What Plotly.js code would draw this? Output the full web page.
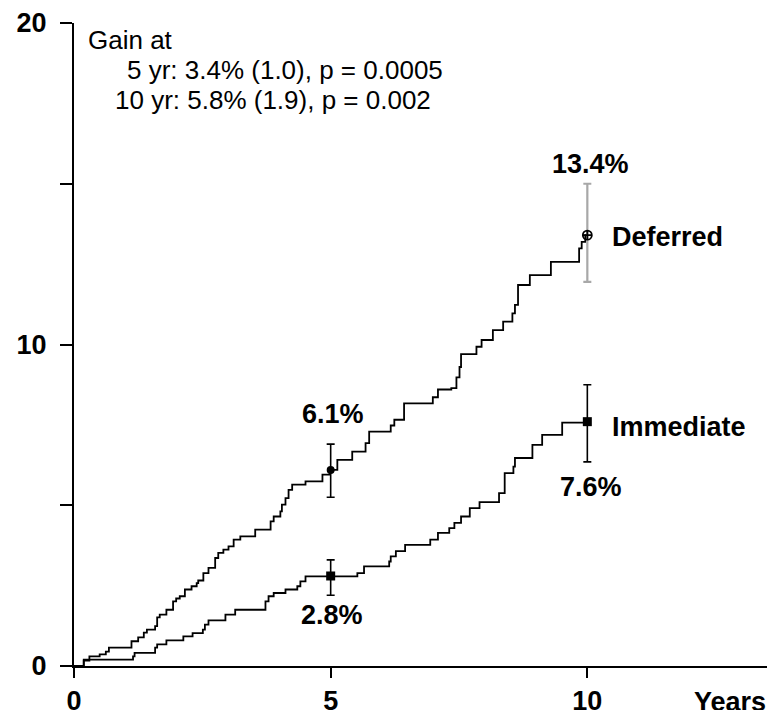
<!DOCTYPE html>
<html>
<head>
<meta charset="utf-8">
<script src="https://cdn.plot.ly/plotly-3.0.1.min.js"></script>
<style>html,body{margin:0;padding:0;background:#fff;}#chart{width:779px;height:710px;}</style>
</head>
<body>
<div id="chart"></div>
<script>
// Cumulative incidence step curves (years, %)
const deferredYears = [0, 0.19, 0.30, 0.50, 0.62, 0.68, 1.12, 1.25, 1.36, 1.42, 1.58, 1.62, 1.67, 1.80, 1.93, 1.99, 2.06, 2.16, 2.29, 2.39, 2.42, 2.52, 2.62, 2.75, 2.81, 2.91, 3.01, 3.11, 3.24, 3.53, 3.83, 3.89, 4.02, 4.05, 4.12, 4.18, 4.25, 4.51, 4.84, 4.98, 5.13, 5.42, 5.68, 5.75, 6.17, 6.24, 6.43, 6.99, 7.09, 7.35, 7.45, 7.51, 7.54, 7.84, 7.94, 8.16, 8.36, 8.54, 8.59, 8.65, 8.88, 9.29, 9.84, 9.89, 9.96, 10.0];
const deferredRisk  = [0, 0.17, 0.30, 0.36, 0.45, 0.57, 0.77, 0.89, 1.04, 1.13, 1.24, 1.51, 1.60, 1.75, 2.01, 2.10, 2.17, 2.38, 2.48, 2.58, 2.66, 2.89, 3.05, 3.36, 3.52, 3.62, 3.72, 3.93, 4.03, 4.24, 4.50, 4.65, 4.81, 5.02, 5.22, 5.48, 5.64, 5.74, 5.95, 6.10, 6.41, 6.67, 6.93, 7.29, 7.48, 7.66, 8.17, 8.36, 8.60, 8.64, 8.98, 9.30, 9.70, 9.93, 10.14, 10.45, 10.71, 10.97, 11.23, 11.85, 12.16, 12.57, 12.99, 13.19, 13.40, 13.40];

const immediateYears = [0, 0.19, 1.15, 1.18, 1.58, 1.62, 1.80, 2.13, 2.31, 2.51, 2.55, 2.62, 2.95, 3.14, 3.73, 3.79, 3.89, 4.12, 4.35, 4.41, 4.51, 5.52, 5.65, 6.14, 6.17, 6.27, 6.45, 6.94, 7.09, 7.31, 7.41, 7.54, 7.71, 7.90, 8.28, 8.39, 8.56, 8.59, 8.93, 9.12, 9.51, 10.0];
const immediateRisk  = [0, 0.20, 0.30, 0.41, 0.57, 0.67, 0.80, 0.92, 1.02, 1.13, 1.29, 1.42, 1.60, 1.75, 2.01, 2.17, 2.27, 2.38, 2.48, 2.63, 2.79, 2.89, 3.10, 3.25, 3.41, 3.57, 3.77, 3.93, 4.14, 4.29, 4.45, 4.65, 4.91, 5.10, 5.38, 6.00, 6.20, 6.47, 6.88, 7.19, 7.57, 7.60];

// Point estimates with error bars (5 and 10 years)
const markYears = [5, 10];
const deferredPoint = [6.1, 13.4];
const deferredErrPlus = [0.8, 1.6];
const deferredErrMinus = [0.85, 1.45];
const immediatePoint = [2.8, 7.6];
const immediateErrPlus = [0.5, 1.15];
const immediateErrMinus = [0.6, 1.25];

const pointLabels = ['6.1%', '13.4%', '2.8%', '7.6%'];
const seriesNames = ['Deferred', 'Immediate'];
const gainLines = ['Gain at', '5 yr: 3.4% (1.0), p = 0.0005', '10 yr: 5.8% (1.9), p = 0.002'];
const yTickVals = [0, 5, 10, 15, 20];
const yTickText = ['0', '', '10', '', '20'];
const xTickVals = [0, 5, 10];
const xTickText = ['0', '5', '10'];
const xAxisTitle = 'Years';

const FONT = 'Arial, "Liberation Sans", sans-serif';

const traces = [
  {x: deferredYears, y: deferredRisk, mode: 'lines', line: {shape: 'hv', color: '#000', width: 1.8}, hoverinfo: 'skip'},
  {x: immediateYears, y: immediateRisk, mode: 'lines', line: {shape: 'hv', color: '#000', width: 1.8}, hoverinfo: 'skip'},
  {x: [markYears[0]], y: [deferredPoint[0]], mode: 'markers',
   marker: {symbol: 'circle', size: 8, color: '#000'},
   error_y: {type: 'data', symmetric: false, array: [deferredErrPlus[0]], arrayminus: [deferredErrMinus[0]], color: '#000', thickness: 1.6, width: 4}},
  {x: [markYears[1]], y: [deferredPoint[1]], mode: 'markers',
   marker: {symbol: 'circle-cross-open', size: 9, color: '#000', line: {width: 1.8, color: '#000'}},
   error_y: {type: 'data', symmetric: false, array: [deferredErrPlus[1]], arrayminus: [deferredErrMinus[1]], color: '#a8a8a8', thickness: 2.2, width: 4}},
  {x: markYears, y: immediatePoint, mode: 'markers',
   marker: {symbol: 'square', size: 9, color: '#000'},
   error_y: {type: 'data', symmetric: false, array: immediateErrPlus, arrayminus: immediateErrMinus, color: '#000', thickness: 1.6, width: 4}}
];

const boldFont = {family: FONT, size: 27, color: '#000', weight: 'bold'};
const annotations = [
  {x: 5.04, y: 7.85, text: '<b>' + pointLabels[0] + '</b>', showarrow: false, xanchor: 'center', yanchor: 'middle', font: boldFont},
  {x: 10.06, y: 15.6, text: '<b>' + pointLabels[1] + '</b>', showarrow: false, xanchor: 'center', yanchor: 'middle', font: boldFont},
  {x: 5.03, y: 1.6, text: '<b>' + pointLabels[2] + '</b>', showarrow: false, xanchor: 'center', yanchor: 'middle', font: boldFont},
  {x: 10.07, y: 5.58, text: '<b>' + pointLabels[3] + '</b>', showarrow: false, xanchor: 'center', yanchor: 'middle', font: boldFont},
  {x: 10.44, y: 13.33, text: '<b>' + seriesNames[0] + '</b>', showarrow: false, xanchor: 'left', yanchor: 'middle', font: boldFont},
  {x: 10.45, y: 7.43, text: '<b>' + seriesNames[1] + '</b>', showarrow: false, xanchor: 'left', yanchor: 'middle', font: boldFont},
  {x: 12.03, xref: 'x', y: -0.056, yref: 'paper', text: '<b>' + xAxisTitle + '</b>', showarrow: false, xanchor: 'left', yanchor: 'middle', font: boldFont},
  {x: 0.24, y: 19.48, text: gainLines[0], showarrow: false, xanchor: 'left', yanchor: 'middle', font: {family: FONT, size: 26, color: '#000'}},
  {x: 1.0, y: 18.54, text: gainLines[1], showarrow: false, xanchor: 'left', yanchor: 'middle', font: {family: FONT, size: 26, color: '#000'}},
  {x: 0.75, y: 17.61, text: gainLines[2], showarrow: false, xanchor: 'left', yanchor: 'middle', font: {family: FONT, size: 26, color: '#000'}}
];

const layout = {
  width: 779, height: 710, autosize: false,
  margin: {l: 74, r: 12, t: 23, b: 44, pad: 0},
  paper_bgcolor: '#fff', plot_bgcolor: '#fff',
  showlegend: false,
  xaxis: {range: [0, 13.5], showline: true, linecolor: '#000', linewidth: 2, showgrid: false, zeroline: false,
          tickvals: xTickVals, ticktext: xTickText, ticks: 'outside', ticklen: 10, tickwidth: 2, tickcolor: '#000',
          ticklabelstandoff: 0, tickfont: {family: FONT, size: 27, color: '#000', weight: 'bold'}},
  yaxis: {range: [0, 20], showline: true, linecolor: '#000', linewidth: 2, showgrid: false, zeroline: false,
          tickvals: yTickVals, ticktext: yTickText, ticks: 'outside', ticklen: 12, tickwidth: 2, tickcolor: '#000',
          ticklabelstandoff: 8, tickfont: {family: FONT, size: 27, color: '#000', weight: 'bold'}},
  annotations: annotations
};

Plotly.newPlot('chart', traces, layout, {displayModeBar: false, staticPlot: true});
</script>
</body>
</html>
